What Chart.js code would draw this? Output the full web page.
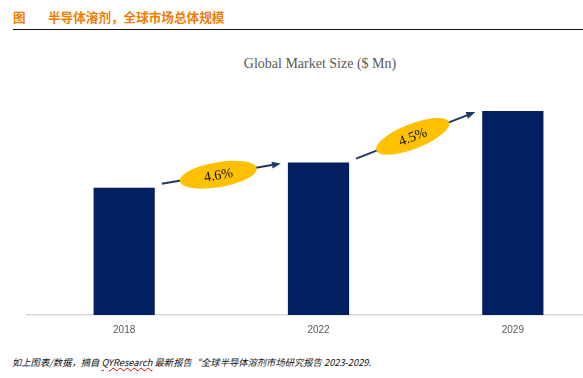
<!DOCTYPE html>
<html>
<head>
<meta charset="utf-8">
<script src="https://cdn.jsdelivr.net/npm/chart.js@4.4.0/dist/chart.umd.min.js"></script>
<style>
  html, body { margin:0; padding:0; background:#fff; width:583px; height:378px; overflow:hidden; position:relative; }
  #hdr { position:absolute; left:13px; top:7px; font:bold 12.6px "Noto Sans CJK SC", sans-serif; color:#F07C00; white-space:nowrap; }
  #hdr .t { position:absolute; left:35px; top:0; }
  #rule { position:absolute; left:13px; top:29px; width:570px; height:0; border-top:1.3px solid #111; }
  #ttl { position:absolute; top:56px; left:0; width:640px; text-align:center; font:14px "Liberation Serif", serif; color:#595959; white-space:nowrap; }
  #note { position:absolute; left:12px; top:355px; font:italic 9.3px "Noto Sans CJK SC", sans-serif; color:#111; white-space:nowrap; }
  #note u { text-decoration: underline wavy #e00000; text-decoration-thickness:1px; }
  #wrap { position:absolute; left:0; top:90px; width:610px; height:255px; }
</style>
</head>
<body>
<div id="hdr">图<span class="t">半导体溶剂，全球市场总体规模</span></div>
<div id="rule"></div>
<div id="ttl">Global Market Size ($ Mn)</div>
<div id="wrap"><canvas id="c" width="610" height="255"></canvas></div>
<div id="note">如上图表/数据，摘自 <u>QYResearch</u> 最新报告“全球半导体溶剂市场研究报告 2023-2029.</div>
<script>
const categories = ["2018", "2022", "2029"];
const marketSize = [1260, 1510, 2020];
const cagrLabels = ["4.6%", "4.5%"];

const cagrPlugin = {
  id: 'cagr',
  afterDatasetsDraw(chart) {
    const ctx = chart.ctx;
    const bars = chart.getDatasetMeta(0).data;
    for (let i = 0; i < bars.length - 1; i++) {
      const a = bars[i], b = bars[i + 1];
      const x1 = a.x + a.width / 2 + 7, y1 = a.y - 4;
      const x2 = b.x - b.width / 2 - 7, y2 = b.y + 1;
      const ang = Math.atan2(y2 - y1, x2 - x1);
      ctx.save();
      ctx.strokeStyle = '#1F3864';
      ctx.fillStyle = '#1F3864';
      ctx.lineWidth = 2;
      const hl = 9;
      const ex = x2 - hl * Math.cos(ang), ey = y2 - hl * Math.sin(ang);
      ctx.beginPath(); ctx.moveTo(x1, y1); ctx.lineTo(ex, ey); ctx.stroke();
      ctx.beginPath();
      ctx.moveTo(x2, y2);
      ctx.lineTo(ex + 3.5 * Math.sin(ang), ey - 3.5 * Math.cos(ang));
      ctx.lineTo(ex - 3.5 * Math.sin(ang), ey + 3.5 * Math.cos(ang));
      ctx.closePath(); ctx.fill();
      const mx = (x1 + x2) / 2 - 3, my = (y1 + y2) / 2 + 1;
      ctx.translate(mx, my);
      ctx.rotate(ang);
      ctx.fillStyle = '#FFC000';
      ctx.beginPath(); ctx.ellipse(0, 0, 39, 12.5, 0, 0, Math.PI * 2); ctx.fill();
      ctx.fillStyle = '#111';
      ctx.font = '14px "Liberation Serif", serif';
      ctx.textAlign = 'center'; ctx.textBaseline = 'middle';
      ctx.fillText(cagrLabels[i], 0, 1);
      ctx.restore();
    }
  }
};

new Chart(document.getElementById('c'), {
  type: 'bar',
  data: {
    labels: categories,
    datasets: [{ data: marketSize, backgroundColor: '#002060', barPercentage: 0.315, categoryPercentage: 1 }]
  },
  options: {
    responsive: false,
    animation: false,
    layout: { padding: { left: 27, right: 0, top: 10, bottom: 0 } },
    plugins: { legend: { display: false }, title: { display: false }, tooltip: { enabled: false } },
    scales: {
      x: {
        grid: { display: false, drawTicks: false },
        border: { color: '#D9D9D9', width: 1.5 },
        ticks: { color: '#595959', font: { family: 'Liberation Sans', size: 10 }, padding: 9 }
      },
      y: { display: false, min: 0, max: 2130 }
    }
  },
  plugins: [cagrPlugin]
});
</script>
</body>
</html>
